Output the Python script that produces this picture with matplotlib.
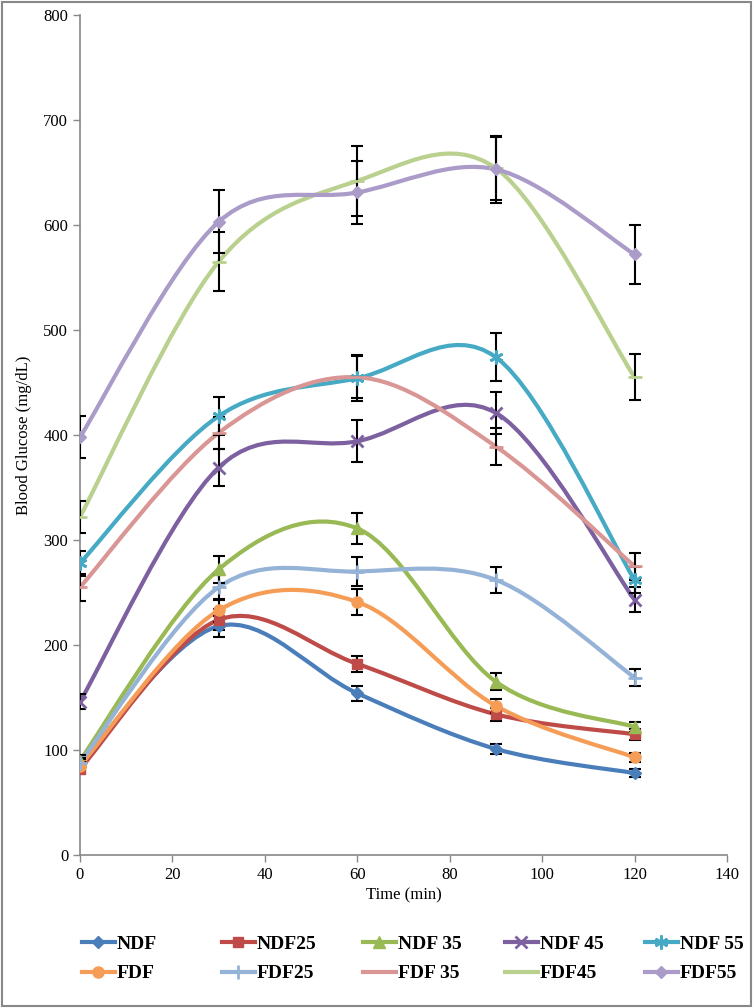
import matplotlib
matplotlib.use('Agg')

import matplotlib.pyplot as plt
from matplotlib.path import Path
from matplotlib.patches import PathPatch, Rectangle
from matplotlib.lines import Line2D

plt.rcParams['font.family'] = ['Liberation Serif', 'DejaVu Serif']

time = [0, 30, 60, 90, 120]
names = ['NDF', 'NDF25', 'NDF 35', 'NDF 45', 'NDF 55',
         'FDF', 'FDF25', 'FDF 35', 'FDF45', 'FDF55']

ndf = [87, 218, 154, 101, 78]
ndf25 = [82, 224, 182, 134, 115]
ndf35 = [90, 272, 311, 165, 122]
ndf45 = [146, 369, 394, 421, 243]
ndf55 = [278, 418, 454, 474, 262]
fdf = [85, 233, 241, 142, 93]
fdf25 = [88, 255, 270, 262, 169]
fdf35 = [255, 402, 455, 389, 275]
fdf45 = [322, 565, 642, 654, 455]
fdf55 = [398, 603, 631, 653, 572]

ndf_err = [4, 10, 7, 5, 4]
ndf25_err = [4, 10, 8, 6, 5]
ndf35_err = [5, 13, 15, 8, 5]
ndf45_err = [7, 18, 20, 20, 12]
ndf55_err = [12, 18, 22, 23, 12]
fdf_err = [4, 11, 12, 7, 4]
fdf25_err = [4, 12, 14, 12, 8]
fdf35_err = [13, 15, 20, 18, 13]
fdf45_err = [15, 28, 33, 30, 22]
fdf55_err = [20, 30, 30, 32, 28]

series = [ndf, ndf25, ndf35, ndf45, ndf55, fdf, fdf25, fdf35, fdf45, fdf55]
errors = [ndf_err, ndf25_err, ndf35_err, ndf45_err, ndf55_err,
          fdf_err, fdf25_err, fdf35_err, fdf45_err, fdf55_err]
colors = ['#4A7EBB', '#BE4B48', '#98B954', '#7D60A0', '#46AAC5',
          '#F59D56', '#95B3D7', '#D99694', '#B9D08F', '#AA9BC8']
markers = ['D', 's', '^', 'x', (6, 2, 0), 'o', '+', '_', '_', 'D']
msizes = [6, 7, 8, 9, 10, 8, 10, 10, 10, 6]


def smooth_path(xs, ys):
    # excel-like smoothed line: cubic bezier with catmull-rom control points
    pts = list(zip(xs, ys))
    verts = [pts[0]]
    codes = [Path.MOVETO]
    n = len(pts)
    for i in range(n - 1):
        p0 = pts[i - 1] if i > 0 else pts[i]
        p1 = pts[i]
        p2 = pts[i + 1]
        p3 = pts[i + 2] if i + 2 < n else pts[i + 1]
        c1 = (p1[0] + (p2[0] - p0[0]) / 6.0, p1[1] + (p2[1] - p0[1]) / 6.0)
        c2 = (p2[0] - (p3[0] - p1[0]) / 6.0, p2[1] - (p3[1] - p1[1]) / 6.0)
        verts += [c1, c2, p2]
        codes += [Path.CURVE4] * 3
    return Path(verts, codes)


def mew_for(m):
    return 2 if m in ('x', '+', '_', (6, 2, 0)) else 1


fig = plt.figure(figsize=(7.53, 10.08), dpi=100)
ax = fig.add_axes([80 / 753, 1 - 855 / 1008, 647 / 753, 840 / 1008])

for vals, err, c, m, ms in zip(series, errors, colors, markers, msizes):
    ax.add_patch(PathPatch(smooth_path(time, vals), facecolor='none',
                           edgecolor=c, lw=3, zorder=2))
    ax.errorbar(time, vals, yerr=err, fmt='none', ecolor='black',
                elinewidth=1.5, capsize=4, capthick=1.5, zorder=3)
    ax.plot(time, vals, linestyle='none', marker=m, color=c, ms=ms,
            mew=mew_for(m), zorder=4)

ax.set_xlim(0, 140)
ax.set_ylim(0, 800)
ax.set_xticks(range(0, 141, 20))
ax.set_yticks(range(0, 801, 100))
ax.set_xlabel('Time (min)', fontsize=12, labelpad=3)
ax.set_ylabel('Blood Glucose (mg/dL)', fontsize=12, labelpad=8)
ax.tick_params(labelsize=12, color='#888888', length=5, width=1)
for s in ('top', 'right'):
    ax.spines[s].set_visible(False)
for s in ('left', 'bottom'):
    ax.spines[s].set_color('#888888')
    ax.spines[s].set_linewidth(1.2)

handles = [Line2D([0], [0], color=c, lw=3, marker=m, ms=ms, mew=mew_for(m))
           for c, m, ms in zip(colors, markers, msizes)]

# excel style legend: equal-width columns, one small legend per column
col_x = [72, 212, 353, 495, 635]
for k, x in enumerate(col_x):
    fig.legend([handles[k], handles[k + 5]], [names[k], names[k + 5]],
               loc='center left', bbox_to_anchor=(x / 753, 1 - 959 / 1008),
               frameon=False, borderpad=0, handlelength=1.7,
               handletextpad=0.1, labelspacing=0.6,
               prop={'family': 'Liberation Serif', 'weight': 'bold', 'size': 14})

fig.patches.append(Rectangle((0.002, 0.002), 0.996, 0.996, transform=fig.transFigure,
                             fill=False, edgecolor='#888888', lw=1.5))

plt.savefig('out.png', dpi=100)
plt.close()
